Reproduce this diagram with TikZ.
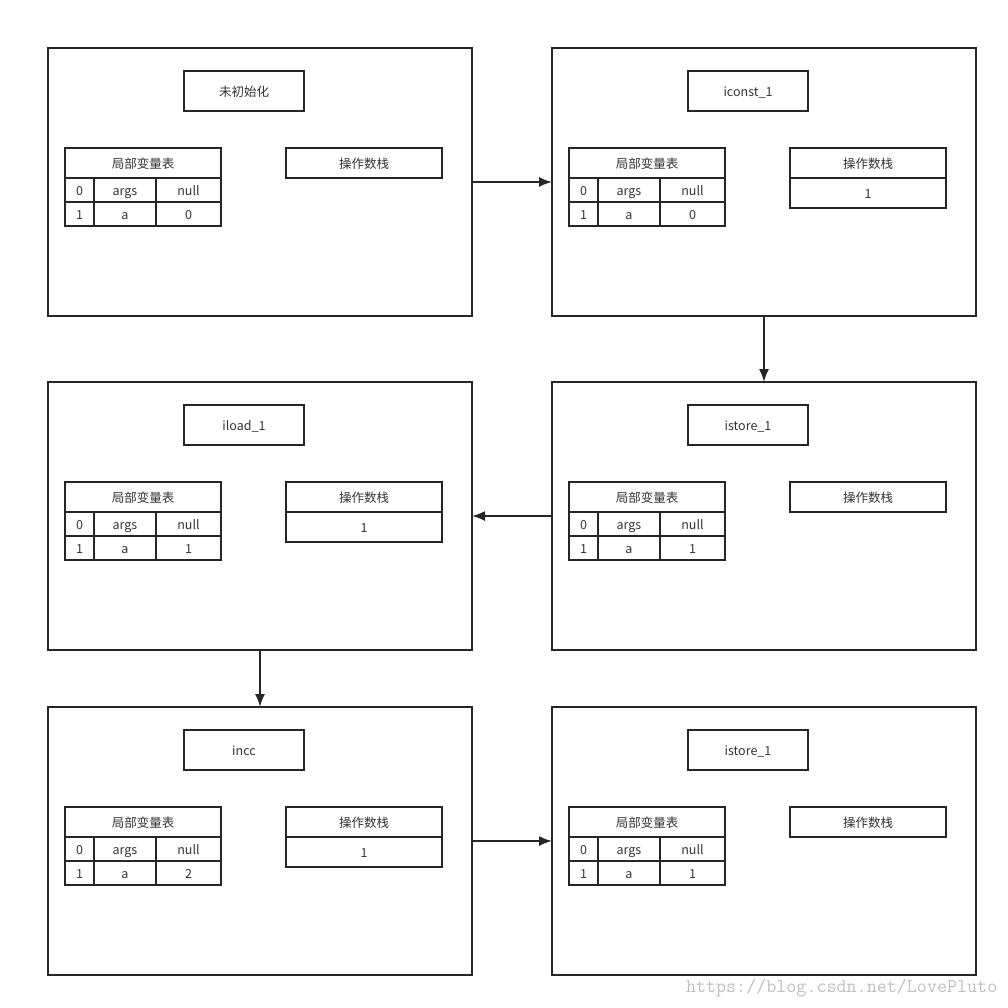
\documentclass[tikz,border=0pt]{standalone}
\usepackage{fontspec}
\setmainfont{Noto Sans CJK SC}
\usetikzlibrary{arrows.meta}

\begin{document}
\begin{tikzpicture}[x=1pt,y=-1pt]
      \tikzset{
        every node/.style={inner sep=0pt,outer sep=0pt,text=black!80,
          font=\fontsize{12.5}{15}\selectfont},
        box/.style={draw=black!85,line width=1.6pt,anchor=north west,
          text height=11pt,text depth=1pt},
        panel/.style={box,minimum width=424,minimum height=268},
        titlebox/.style={box,minimum width=120,minimum height=40},
        headbox/.style={box,minimum width=156,minimum height=30},
        cell/.style={box,minimum height=24},
        flow/.style={draw=black!85,line width=1.6pt,-{Latex[length=13pt,width=10pt]}},
        watermark/.style={anchor=west,text=black!25,font=\ttfamily\fontsize{19.5}{21}\selectfont}
      }
      \useasboundingbox (0,0) rectangle (1008,1007);
      % one frame per instruction
      \foreach \n/\x/\y/\t/\v in {1/48/48/未初始化/0,
          2/552/48/iconst\_1/0,
          3/48/382/iload\_1/1,
          4/552/382/istore\_1/1,
          5/48/707/incc/2,
          6/552/707/istore\_1/1}
      {
        \node[panel] (p\n) at (\x,\y) {};
        \node[titlebox] (t\n) at (\x+136,\y+23) {\t};
        % local variable table
        \node[headbox] (h\n) at (\x+17,\y+100) {局部变量表};
        \node[cell,minimum width=29] (a\n) at (\x+17,\y+130) {0};
        \node[cell,minimum width=62] (b\n) at (\x+46,\y+130) {args};
        \node[cell,minimum width=65] (c\n) at (\x+108,\y+130) {null};
        \node[cell,minimum width=29] (d\n) at (\x+17,\y+154) {1};
        \node[cell,minimum width=62] (e\n) at (\x+46,\y+154) {a};
        \node[cell,minimum width=65] (f\n) at (\x+108,\y+154) {\v};
        % operand stack
        \node[headbox] (s\n) at (\x+238,\y+100) {操作数栈};
      }
      \foreach \n in {2,3,5}
        \node[headbox] (v\n) at (s\n.south west) {1};
      \draw[flow] (p1.east) -- (p2.west);
      \draw[flow] (p2.south) -- (p4.north);
      \draw[flow] (p4.west) -- (p3.east);
      \draw[flow] (p3.south) -- (p5.north);
      \draw[flow] (p5.east) -- (p6.west);
      \node[watermark] (wm) at (686,988) {https://blog.csdn.net/LovePluto};
    \end{tikzpicture}
\end{document}
